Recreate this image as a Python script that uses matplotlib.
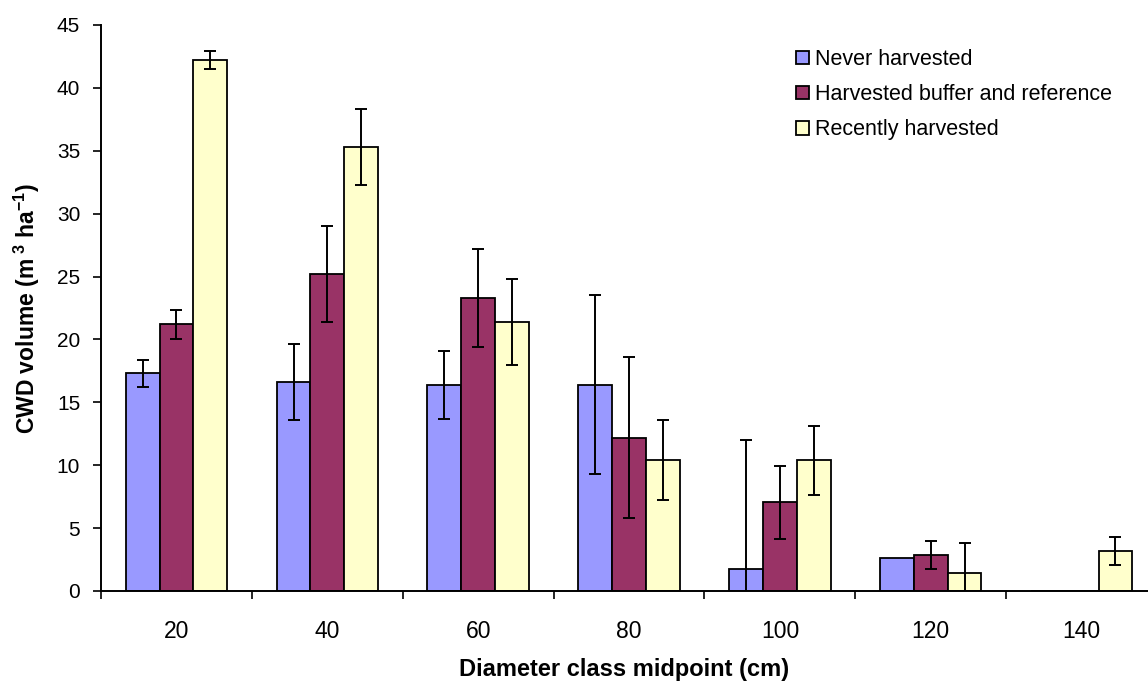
import numpy as np
import matplotlib
matplotlib.use('Agg')
import matplotlib.pyplot as plt

plt.rcParams['font.family'] = ['Liberation Sans', 'DejaVu Sans']
plt.rcParams['mathtext.fontset'] = 'custom'
plt.rcParams['mathtext.rm'] = 'Liberation Sans:bold'
plt.rcParams['mathtext.bf'] = 'Liberation Sans:bold'
plt.rcParams['mathtext.default'] = 'bf'

# diameter classes (cm)
classes = ['20', '40', '60', '80', '100', '120', '140']

series_names = ['Never harvested', 'Harvested buffer and reference', 'Recently harvested']

# mean CWD volume (m3/ha) and standard errors
never = [17.3, 16.6, 16.4, 16.4, 1.75, 2.65, 0]
never_err = [1.05, 3.0, 2.7, 7.1, 10.25, 0, 0]
buffer = [21.2, 25.2, 23.3, 12.2, 7.05, 2.86, 0]
buffer_err = [1.15, 3.8, 3.9, 6.4, 2.9, 1.13, 0]
recent = [42.2, 35.3, 21.4, 10.4, 10.4, 1.43, 3.18]
recent_err = [0.7, 3.0, 3.4, 3.2, 2.75, 2.4, 1.13]

colors = ['#9999FF', '#993366', '#FFFFCC']

fig = plt.figure(figsize=(11.48, 6.82), dpi=100)
ax = fig.add_axes([101 / 1148, 91 / 682, 1047 / 1148, 566 / 682])

x = np.arange(len(classes))
w = 0.224
for i, (vals, errs) in enumerate([(never, never_err), (buffer, buffer_err), (recent, recent_err)]):
    pos = x + (i - 1) * w
    ax.bar(pos, vals, w, color=colors[i], edgecolor='black', linewidth=1.3,
           label=series_names[i], zorder=2)
    vals = np.array(vals)
    errs = np.array(errs)
    m = errs > 0
    ax.errorbar(pos[m], vals[m], yerr=errs[m], fmt='none', ecolor='black',
                elinewidth=1.4, capsize=4, capthick=1.4, zorder=3)

ax.set_ylim(0, 45)
ax.set_xlim(-0.5, 6.44)
ax.set_yticks(np.arange(0, 46, 5))
ax.tick_params(axis='y', direction='out', length=6, width=1.2, labelsize=15, pad=9)

# group boundaries get tick marks, group centres get labels
ax.set_xticks(np.arange(-0.5, 6.5, 1.0))
ax.set_xticklabels([])
ax.tick_params(axis='x', which='major', direction='out', length=6, width=1.2)
ax.set_xticks(x, minor=True)
ax.set_xticklabels(classes, minor=True, fontsize=16.5)
ax.tick_params(axis='x', which='minor', length=0, pad=21)

for s in ['top', 'right']:
    ax.spines[s].set_visible(False)
for s in ['left', 'bottom']:
    ax.spines[s].set_linewidth(1.4)

ax.set_ylabel(r'CWD volume (m$^{\ 3}$ ha$^{-1}$)', fontsize=16.5, fontweight='bold')
ax.set_xlabel('Diameter class midpoint (cm)', fontsize=17, fontweight='bold')
ax.yaxis.set_label_coords(-0.056, 0.5)
ax.xaxis.set_label_coords(0.5, -0.118)

leg = ax.legend(loc='upper left', bbox_to_anchor=(796 / 1148, 1 - 49 / 682),
                bbox_transform=fig.transFigure, frameon=False, fontsize=15.5,
                handlelength=0.6, handleheight=0.6, handletextpad=0.3,
                labelspacing=0.66, borderaxespad=0, borderpad=0)

fig.savefig('out.png', dpi=100)
